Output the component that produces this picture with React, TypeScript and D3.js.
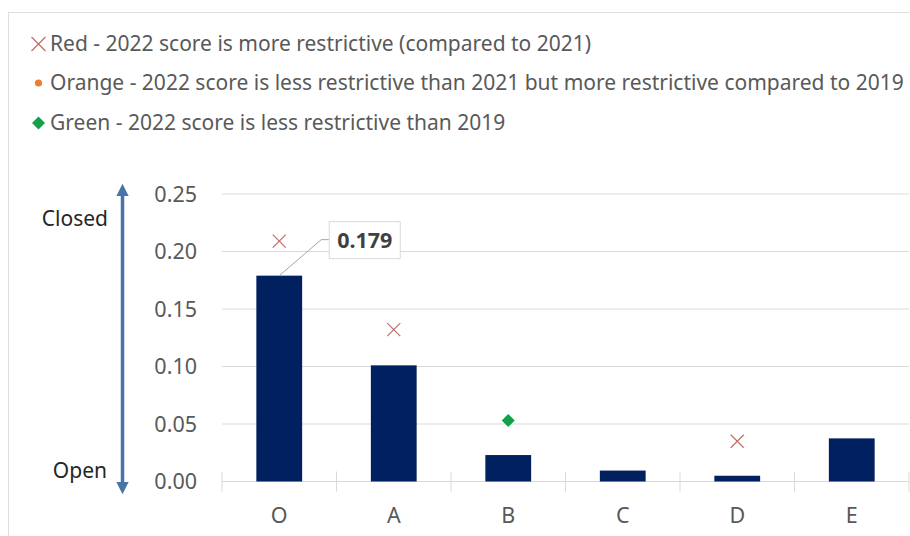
import React from "react";
import * as d3 from "d3";

const categories = ["O", "A", "B", "C", "D", "E"];
const scores2022 = [0.179, 0.101, 0.023, 0.0095, 0.005, 0.0375];
// comparison markers: [category, value, type]
const markerCats = ["O", "A", "B", "D"];
const markerVals = [0.209, 0.132, 0.053, 0.035];
const markerTypes = ["red", "red", "green", "red"];
const yTicks = [0, 0.05, 0.1, 0.15, 0.2, 0.25];
const legendLabels = [
  "Red - 2022 score is more restrictive (compared to 2021)",
  "Orange - 2022 score is less restrictive than 2021 but more restrictive compared to 2019",
  "Green - 2022 score is less restrictive than 2019",
];
const legendTypes = ["red", "orange", "green"];
const highlightLabel = "0.179";

const W = 910;
const H = 536;
const FONT = "'Noto Sans', 'Open Sans', sans-serif";
const RED = "#c0706a";
const ORANGE = "#ed7d31";
const GREEN = "#12a04a";
const BAR = "#002060";
const GRID = "#d9d9d9";
const TXT = "#595959";

function Marker({ type, x, y, s }: { type: string; x: number; y: number; s: number }) {
  if (type === "red") {
    return (
      <g stroke={RED} strokeWidth={1.2}>
        <line x1={x - s} y1={y - s} x2={x + s} y2={y + s} />
        <line x1={x - s} y1={y + s} x2={x + s} y2={y - s} />
      </g>
    );
  }
  if (type === "orange") {
    return <circle cx={x} cy={y} r={3.6} fill={ORANGE} />;
  }
  return (
    <path
      d={`M${x},${y - s}L${x + s},${y}L${x},${y + s}L${x - s},${y}Z`}
      fill={GREEN}
    />
  );
}

export default function App() {
  const x = d3
    .scaleBand<string>()
    .domain(categories)
    .range([222, 909])
    .paddingInner(0.6)
    .paddingOuter(0.3);
  const y = d3.scaleLinear().domain([0, 0.25]).range([481.5, 194]);
  const step = x.step();
  const x0 = 222;
  const cx = (c: string) => (x(c) as number) + x.bandwidth() / 2;

  const legendY = [44, 83, 123];

  const ax = cx("O");
  const ay = y(scores2022[0]);

  return (
    <svg width={W} height={H} style={{ position: "absolute", left: 0, top: 0 }}>
      <rect x={0} y={0} width={W} height={H} fill="#fff" />
      <rect x={8.5} y={12.5} width={W + 10} height={H + 10} fill="none" stroke="#dedede" />

      {/* legend */}
      {legendLabels.map((l, i) => (
        <g key={l}>
          <Marker type={legendTypes[i]} x={38.5} y={legendY[i]} s={legendTypes[i] === "red" ? 7 : 6.5} />
          <text
            x={50}
            y={legendY[i]}
            dy="0.35em"
            fontFamily={FONT}
            fontSize={21}
            fill={TXT}
          >
            {l}
          </text>
        </g>
      ))}

      {/* gridlines */}
      {yTicks.map((t) => (
        <line key={t} x1={222} x2={909} y1={y(t)} y2={y(t)} stroke={GRID} strokeWidth={1} />
      ))}
      {/* x ticks */}
      {d3.range(categories.length + 1).map((i) => (
        <line
          key={i}
          x1={x0 + i * step}
          x2={x0 + i * step}
          y1={y(0) - 10}
          y2={y(0) + 10}
          stroke={GRID}
          strokeWidth={1}
        />
      ))}
      {/* y labels */}
      {yTicks.map((t) => (
        <text
          key={t}
          x={197}
          y={y(t)}
          dy="0.35em"
          textAnchor="end"
          fontFamily={FONT}
          fontSize={21.5}
          fill={TXT}
        >
          {d3.format(".2f")(t)}
        </text>
      ))}
      {/* bars */}
      {categories.map((c, i) => (
        <rect
          key={c}
          x={x(c)}
          y={y(scores2022[i])}
          width={x.bandwidth()}
          height={y(0) - y(scores2022[i])}
          fill={BAR}
        />
      ))}
      {/* x labels */}
      {categories.map((c) => (
        <text
          key={c}
          x={cx(c)}
          y={515}
          dy="0.35em"
          textAnchor="middle"
          fontFamily={FONT}
          fontSize={21.5}
          fill={TXT}
        >
          {c}
        </text>
      ))}
      {/* comparison markers */}
      {markerCats.map((c, i) => (
        <Marker
          key={c}
          type={markerTypes[i]}
          x={cx(c)}
          y={y(markerVals[i])}
          s={markerTypes[i] === "red" ? 6.5 : 6.5}
        />
      ))}

      {/* data label */}
      <polyline
        points={`${ax},${ay} ${ax + 42},${ay - 36} ${ax + 50},${ay - 36}`}
        fill="none"
        stroke="#a6a6a6"
        strokeWidth={1}
      />
      <rect x={ax + 50} y={ay - 54} width={71} height={37} fill="#fff" stroke={GRID} />
      <text
        x={ax + 85.5}
        y={ay - 35.5}
        dy="0.35em"
        textAnchor="middle"
        fontFamily={FONT}
        fontSize={21.5}
        fontWeight="bold"
        fill="#404040"
      >
        {highlightLabel}
      </text>

      {/* closed/open arrow */}
      <defs>
        <marker id="ah" viewBox="0 0 10 10" refX={5} refY={5} markerWidth={3.6} markerHeight={4} orient="auto-start-reverse">
          <path d="M0,0L10,5L0,10Z" fill="#4a74a8" />
        </marker>
      </defs>
      <line
        x1={122.5}
        x2={122.5}
        y1={190}
        y2={488}
        stroke="#4a74a8"
        strokeWidth={3.5}
        markerStart="url(#ah)"
        markerEnd="url(#ah)"
      />
      <text x={108} y={219} dy="0.35em" textAnchor="end" fontFamily={FONT} fontSize={21} fill="#262626">
        Closed
      </text>
      <text x={107} y={471} dy="0.35em" textAnchor="end" fontFamily={FONT} fontSize={21} fill="#262626">
        Open
      </text>
    </svg>
  );
}
